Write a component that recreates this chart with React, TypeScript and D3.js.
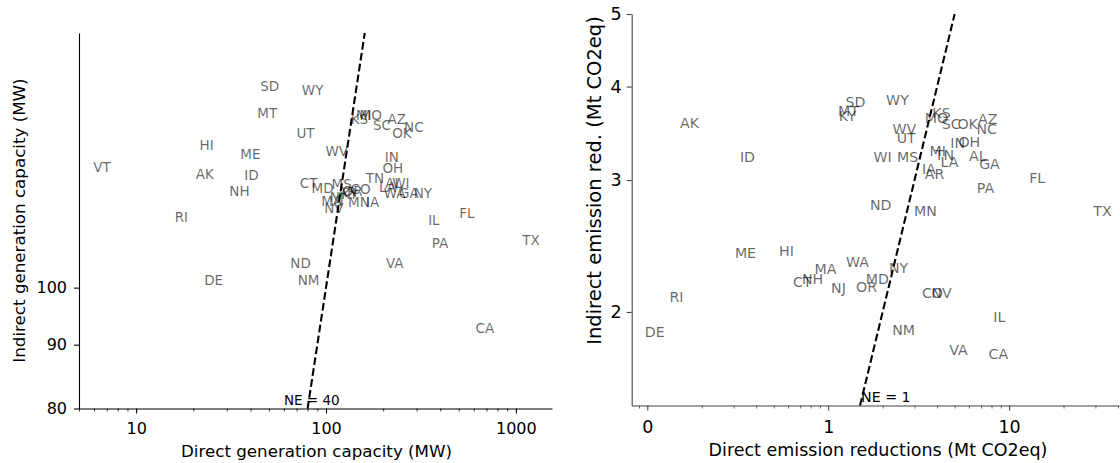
import React, { useEffect, useRef } from 'react'
import * as d3 from 'd3'

const W = 1120, H = 463

// left panel: generation capacity (MW)
const capStates = ['SD', 'WY', 'MT', 'UT', 'HI', 'ME', 'VT', 'AK', 'ID', 'NH', 'RI', 'CT', 'MD', 'KS', 'MI', 'MO', 'AZ', 'SC', 'OK', 'NC', 'WV', 'IN', 'OH', 'TN', 'MS', 'CO', 'MA', 'NV', 'MN', 'IA', 'IL', 'FL', 'TX', 'PA', 'ND', 'NM', 'VA', 'DE', 'CA', 'LA', 'AL', 'WI', 'WA', 'GA', 'NY', 'AR', 'KY', 'OR', 'NJ']
const capDirect = [50.5, 85, 49, 78, 23.5, 40, 6.6, 23, 40.5, 35, 17.3, 81, 96, 150, 158, 172, 236, 197, 251, 290, 114, 222, 225, 181, 121, 152, 107, 110, 149, 176, 370, 552, 1200, 398, 73.5, 81, 230, 25.6, 687, 211, 227, 248, 230, 273, 324, 129, 133, 138, 114]
const capIndirect = [145, 144, 138, 133, 130, 128, 125, 123.4, 123.2, 119.6, 114, 121.4, 120.2, 136.6, 137.4, 137.4, 136.4, 134.9, 133.1, 134.6, 128.8, 127.3, 124.8, 122.5, 121.1, 119.9, 117.4, 115.9, 117.2, 117.2, 113.3, 114.8, 109.2, 108.6, 104.7, 101.4, 104.7, 101.4, 92.8, 120.3, 121.2, 121.2, 119, 119, 119, 119.2, 118.8, 119.5, 118.1]

// right panel: emission reductions (Mt CO2eq)
const emStates = ['AK', 'ID', 'SD', 'MT', 'KY', 'ME', 'HI', 'WY', 'KS', 'MO', 'SC', 'OK', 'AZ', 'NC', 'WV', 'UT', 'IN', 'OH', 'WI', 'MS', 'MI', 'TN', 'LA', 'AL', 'GA', 'IA', 'AR', 'PA', 'FL', 'ND', 'MN', 'TX', 'MA', 'WA', 'NY', 'CT', 'NH', 'NJ', 'OR', 'MD', 'CO', 'NV', 'RI', 'DE', 'NM', 'IL', 'VA', 'CA']
const emDirect = [0.171, 0.358, 1.415, 1.295, 1.278, 0.349, 0.588, 2.415, 4.23, 3.97, 4.78, 5.9, 7.62, 7.52, 2.64, 2.7, 5.2, 6.03, 2.0, 2.75, 4.03, 4.39, 4.68, 6.71, 7.79, 3.6, 3.87, 7.4, 14.3, 1.95, 3.45, 32.8, 0.966, 1.45, 2.45, 0.72, 0.82, 1.14, 1.63, 1.87, 3.77, 4.23, 0.145, 0.11, 2.61, 8.84, 5.25, 8.73]
const emIndirect = [3.58, 3.22, 3.81, 3.71, 3.65, 2.4, 2.41, 3.84, 3.685, 3.63, 3.56, 3.56, 3.62, 3.51, 3.51, 3.41, 3.36, 3.37, 3.22, 3.22, 3.28, 3.24, 3.17, 3.23, 3.155, 3.1, 3.06, 2.93, 3.02, 2.78, 2.73, 2.73, 2.28, 2.33, 2.29, 2.19, 2.21, 2.15, 2.16, 2.21, 2.12, 2.12, 2.095, 1.88, 1.89, 1.97, 1.78, 1.76]

const capXTicks = [10, 100, 1000]
const capYTicks = [80, 90, 100]
const emXTicks = [0.1, 1, 10]
const emXTickLabels = ['0', '1', '10']
const emYTicks = [2, 3, 4, 5]

const minorTicks = (lo: number, hi: number) => {
    const out: number[] = []
    for (let e = -3; e <= 4; e++)
        for (let m = 2; m <= 9; m++) {
            const v = m * Math.pow(10, e)
            if (v >= lo && v <= hi) out.push(v)
        }
    return out
}

const FONT = 'DejaVu Sans, sans-serif'

const drawPanel = (root: any, o: any) => {
    const { x, y, color } = o
    const g = root.append('g').attr('font-family', FONT)
    const y0 = y.range()[0], x0 = x.range()[0]

    // minor x ticks
    g.append('g')
        .attr('transform', `translate(0,${y0})`)
        .attr('color', color)
        .call(d3.axisBottom(x).tickValues(minorTicks(x.domain()[0], x.domain()[1])).tickSize(3).tickFormat(() => ''))
        .call((s: any) => s.select('.domain').remove())
        .selectAll('line').attr('stroke-width', 0.8)

    const xa = g.append('g')
        .attr('transform', `translate(0,${y0})`)
        .attr('color', color)
        .call(d3.axisBottom(x).tickValues(o.xTicks).tickSize(5).tickSizeOuter(0)
            .tickPadding(o.xPad).tickFormat((d: any, i: number) => o.xFmt(d, i)))
    xa.selectAll('text').attr('font-size', o.tickFont).attr('fill', '#000').attr('font-family', FONT)
    xa.selectAll('path,line').attr('stroke-width', 1.1)

    const ya = g.append('g')
        .attr('transform', `translate(${x0},0)`)
        .attr('color', color)
        .call(d3.axisLeft(y).tickValues(o.yTicks).tickSize(5).tickSizeOuter(0)
            .tickPadding(o.yPad).tickFormat((d: any) => String(d)))
    ya.selectAll('text').attr('font-size', o.tickFont).attr('fill', '#000').attr('font-family', FONT)
    ya.selectAll('path,line').attr('stroke-width', 1.1)

    // state labels
    g.append('g')
        .selectAll('text')
        .data(o.states.map((s: string, i: number) => ({ s, dx: o.dx[i], dy: o.dy[i] })))
        .join('text')
        .attr('x', (d: any) => x(d.dx))
        .attr('y', (d: any) => y(d.dy))
        .attr('text-anchor', 'middle')
        .attr('dominant-baseline', 'central')
        .attr('font-size', o.stateFont)
        .attr('fill', '#000')
        .attr('fill-opacity', 0.6)
        .text((d: any) => d.s)

    // 1:1 line
    const lo = y.domain()[0], hi = y.domain()[1]
    const line = d3.line<number[]>().x(d => x(d[0])).y(d => y(d[1]))
    g.append('path')
        .attr('d', line([[lo, lo], [hi, hi]]))
        .attr('fill', 'none')
        .attr('stroke', '#000')
        .attr('stroke-width', 2.1)
        .attr('stroke-dasharray', '7.7,3.3')

    g.append('text')
        .attr('x', x(o.neX))
        .attr('y', y0 - 4)
        .attr('font-size', o.stateFont)
        .attr('fill', '#000')
        .text(o.neText)

    g.append('text')
        .attr('x', o.xLabelX)
        .attr('y', o.xLabelY)
        .attr('text-anchor', 'middle')
        .attr('font-size', o.xLabelFont)
        .text(o.xLabel)

    g.append('text')
        .attr('transform', `translate(${o.yLabelX},${o.yLabelY}) rotate(-90)`)
        .attr('text-anchor', 'middle')
        .attr('font-size', o.yLabelFont)
        .text(o.yLabel)
}

const App = () => {
    const ref = useRef<SVGSVGElement>(null)

    useEffect(() => {
        const svg = d3.select(ref.current)
        svg.selectAll('*').remove()

        const capX = d3.scaleLog().domain([5, 1550]).range([79, 552])
        const capY = d3.scaleLog().domain([80, 160]).range([408.5, 33])
        drawPanel(svg, {
            x: capX, y: capY, color: '#000',
            states: capStates, dx: capDirect, dy: capIndirect,
            xTicks: capXTicks, xFmt: (d: number) => String(d), yTicks: capYTicks,
            xPad: 9, yPad: 7, tickFont: 16, stateFont: 13.5,
            neX: 60, neText: 'NE = 40',
            xLabel: 'Direct generation capacity (MW)', xLabelX: 316.5, xLabelY: 457, xLabelFont: 16.7,
            yLabel: 'Indirect generation capacity (MW)', yLabelX: 24.7, yLabelY: 220.5, yLabelFont: 16.7,
        })

        const emX = d3.scaleLog().domain([0.082, 40.5]).range([631.7, 1119])
        const emY = d3.scaleLog().domain([1.5, 5]).range([405.5, 14])
        drawPanel(svg, {
            x: emX, y: emY, color: '#444',
            states: emStates, dx: emDirect, dy: emIndirect,
            xTicks: emXTicks, xFmt: (_: number, i: number) => emXTickLabels[i], yTicks: emYTicks,
            xPad: 10.5, yPad: 5, tickFont: 17.5, stateFont: 14.2,
            neX: 1.52, neText: 'NE = 1',
            xLabel: 'Direct emission reductions (Mt CO2eq)', xLabelX: 878, xLabelY: 456, xLabelFont: 17.5,
            yLabel: 'Indirect emission red. (Mt CO2eq)', yLabelX: 600.6, yLabelY: 180.5, yLabelFont: 19.5,
        })
    }, [])

    return (
        <svg ref={ref} width={W} height={H}
            style={{ position: 'absolute', left: 0, top: 0, background: '#fff' }} />
    )
}

export default App
